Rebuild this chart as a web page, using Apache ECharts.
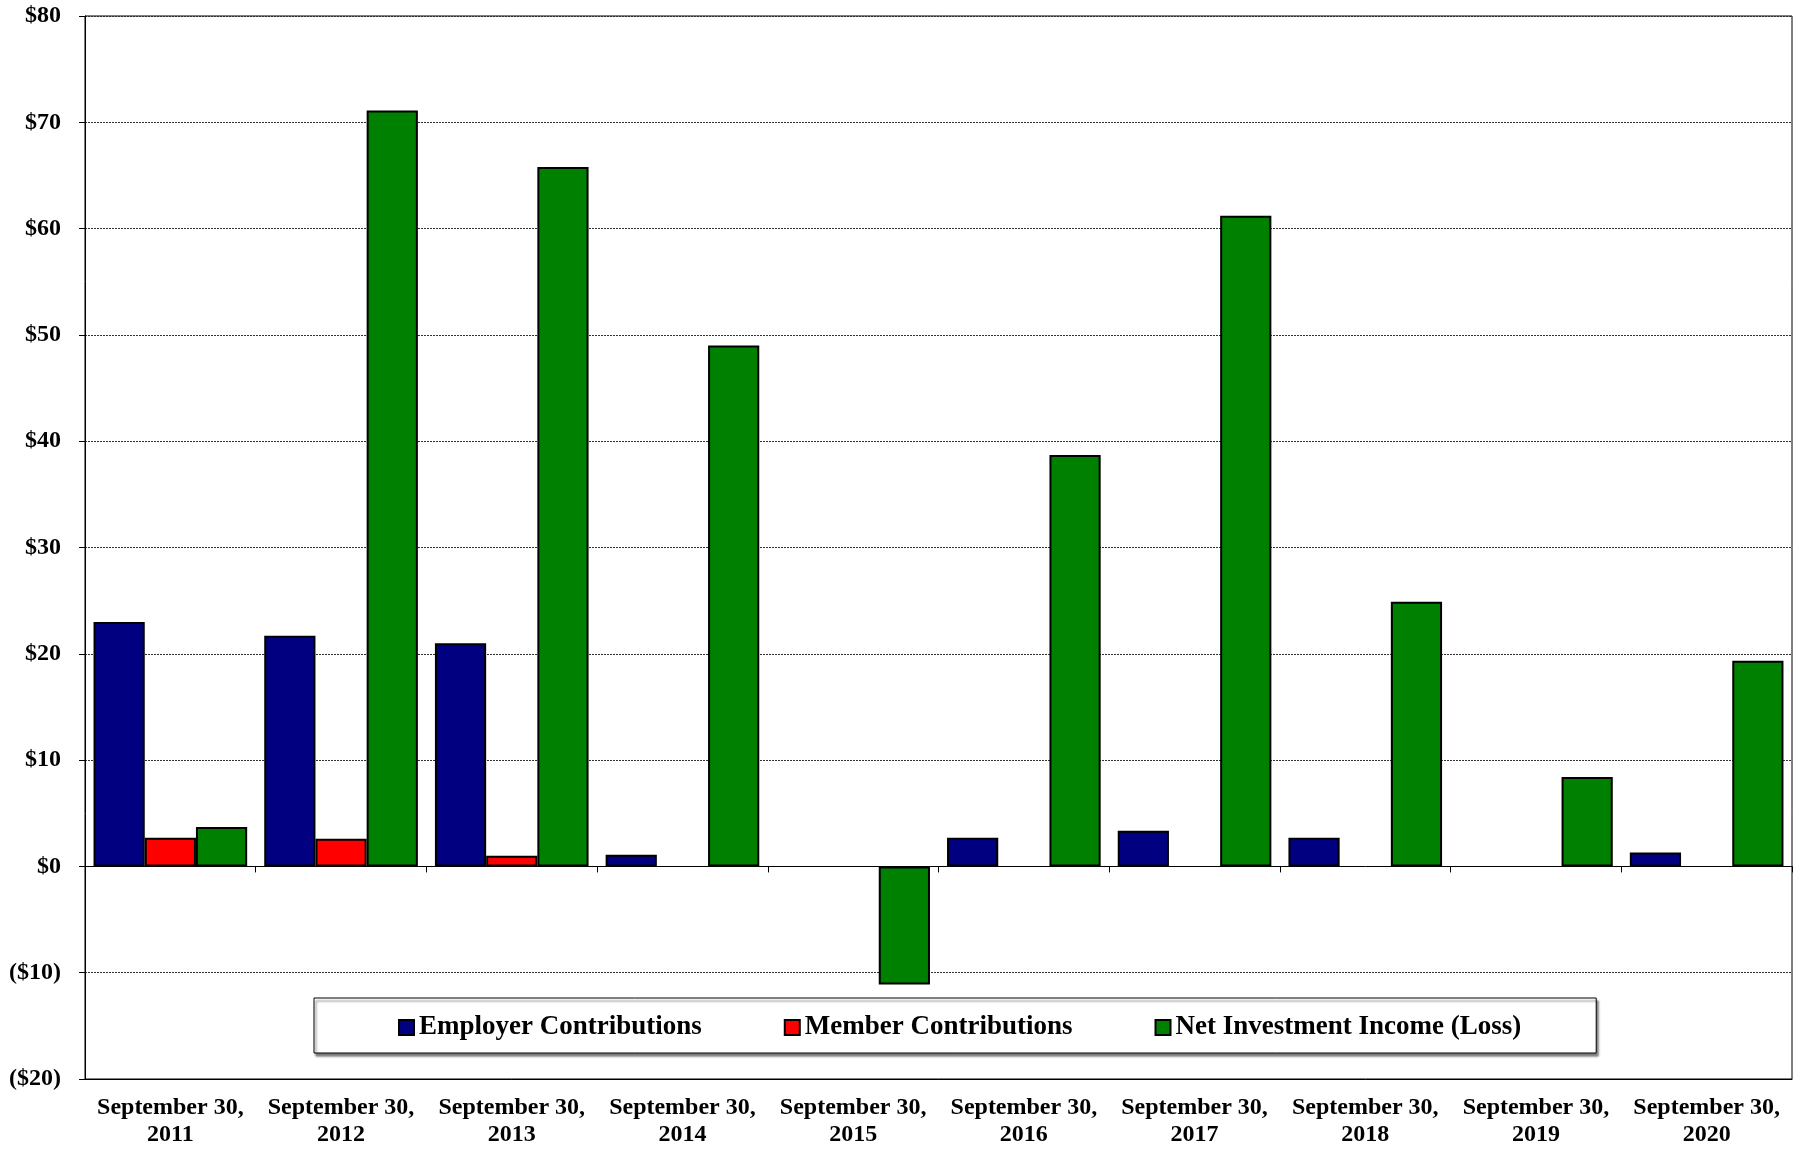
<!DOCTYPE html>
<html>
<head>
<meta charset="utf-8">
<script src="https://cdn.jsdelivr.net/npm/echarts@6/dist/echarts.min.js"></script>
<style>html,body{margin:0;padding:0;background:#fff;}#c{width:1801px;height:1149px;}</style>
</head>
<body>
<div id="c"></div>
<script>
const categories = ["September 30,\n2011","September 30,\n2012","September 30,\n2013","September 30,\n2014","September 30,\n2015","September 30,\n2016","September 30,\n2017","September 30,\n2018","September 30,\n2019","September 30,\n2020"];
const employerContributions = [23.0, 21.7, 21.0, 1.1, null, 2.7, 3.35, 2.7, null, 1.3];
const memberContributions = [2.7, 2.6, 1.0, null, null, null, null, null, null, null];
const netInvestmentIncome = [3.7, 71.1, 65.8, 49.0, -11.1, 38.7, 61.2, 24.9, 8.4, 19.35];
const yTicks = {min: -20, max: 80, interval: 10};

const FONT = '"Liberation Serif","Times New Roman",serif';
const chart = echarts.init(document.getElementById('c'), null, {renderer: 'canvas'});
function fmt(v){ return v < 0 ? '($' + Math.abs(v) + ')' : '$' + v; }
const barStyle = (c) => ({color: c, borderColor: '#000', borderWidth: 2});
chart.setOption({
  animation: false,
  backgroundColor: '#fff',
  grid: {left: 85, right: 9, top: 16, bottom: 70, show: true, borderColor: '#000', borderWidth: 1},
  legend: {
    left: 314, top: 998,
    padding: [16, 75, 12, 84],
    itemWidth: 15, itemHeight: 15, itemGap: 82,
    backgroundColor: '#fff', borderColor: '#000', borderWidth: 1,
    shadowColor: 'rgba(0,0,0,0.5)', shadowOffsetX: 2, shadowOffsetY: 3, shadowBlur: 2,
    icon: 'rect',
    textStyle: {fontFamily: FONT, fontWeight: 'bold', fontSize: 27, color: '#000'},
    itemStyle: {borderColor: '#000', borderWidth: 2}
  },
  xAxis: [{
    type: 'category', data: categories, position: 'bottom',
    axisLine: {onZero: false, show: true, lineStyle: {color: '#000', width: 1}},
    axisTick: {show: false},
    axisLabel: {fontFamily: FONT, fontWeight: 'bold', fontSize: 24, color: '#000', lineHeight: 27, margin: 15, interval: 0}
  }, {
    type: 'category', data: categories, position: 'bottom',
    axisLine: {onZero: true, show: true, lineStyle: {color: '#000', width: 1}},
    axisTick: {show: true, inside: false, length: 6, lineStyle: {color: '#000'}},
    axisLabel: {show: false}
  }],
  yAxis: {
    type: 'value', min: yTicks.min, max: yTicks.max, interval: yTicks.interval,
    axisLine: {show: true, lineStyle: {color: '#000', width: 1}},
    axisTick: {show: true, length: 6, lineStyle: {color: '#000'}},
    splitLine: {show: true, lineStyle: {color: '#333', type: [2, 1], width: 1}},
    axisLabel: {formatter: fmt, fontFamily: FONT, fontWeight: 'bold', fontSize: 24, color: '#000', margin: 24}
  },
  series: [
    {name: 'Employer Contributions', type: 'bar', xAxisIndex: 0, data: employerContributions, itemStyle: barStyle('#000080'), barGap: '0%', barCategoryGap: '10%'},
    {name: 'Member Contributions', type: 'bar', xAxisIndex: 0, data: memberContributions, itemStyle: barStyle('#FF0000'), barGap: '0%', barCategoryGap: '10%'},
    {name: 'Net Investment Income (Loss)', type: 'bar', xAxisIndex: 0, data: netInvestmentIncome, itemStyle: barStyle('#008000'), barGap: '0%', barCategoryGap: '10%'}
  ]
});
</script>
</body>
</html>
